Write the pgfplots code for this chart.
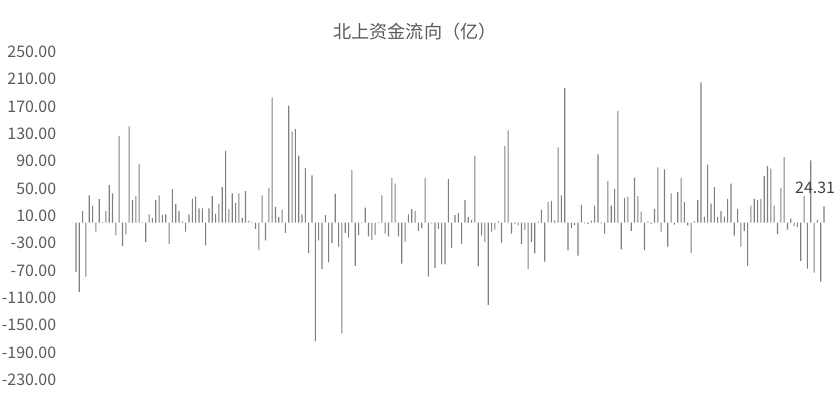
\documentclass[border=0pt]{standalone}
\usepackage{pgfplots}
\pgfplotsset{compat=1.18}
\usepackage{pgfplotstable}
\usepackage{fontspec}
\setmainfont{Noto Sans CJK SC}

\definecolor{barc}{RGB}{127,127,127}
\definecolor{txt}{RGB}{89,89,89}
\definecolor{lbl}{RGB}{64,64,64}

% daily northbound flow, one value per day
\pgfplotstableread{
v
-72
-101
17
-79
40
25
-13
35
1
17
55
43
-18
127
-34
-17
141
33
39
86
1
-28
12
7
33
40
11
12
-31
49
27
17
2
-13
12
35
38
21
21
-33
21
39
13
28
52
105
20
43
29
43
7
46
3
1
-9
-40
40
-26
51
183
23
8
19
-15
171
133
137
98
12
80
-44
69
-173
-26
-68
11
-58
-30
42
-35
-162
-15
-22
77
-63
-18
1
22
-20
-25
-18
1
40
-16
-20
65
57
-20
-60
-28
12
20
17
-12
-8
65
-79
-1
-66
-9
-61
-61
64
-37
11
14
-31
33
8
4
98
-64
-19
-28
-120
-13
-10
2
-29
112
135
-16
-2
-4
-31
-11
-68
-28
-45
2
19
-57
30
32
3
110
40
197
-40
-8
-4
-48
26
-1
-2
3
25
100
-1
-16
61
25
49
163
-39
36
38
-12
66
39
16
-40
2
-2
20
81
-13
78
-35
43
-3
45
65
30
-4
-44
2
33
205
9
85
28
52
8
17
9
35
57
-19
20
-35
-12
-63
25
35
33
35
68
83
79
25
-17
51
96
-10
6
-5
-6
-56
39
-67
91
-73
4
-86
24.31
}\flows

\begin{document}
\begin{tikzpicture}
\begin{axis}[
    name=ax,
    at={(0,0)}, anchor=south west,
    scale only axis,
    width=751.4bp, height=328.3bp,
    xmin=-0.5, xmax=225.5,
    ymin=-230, ymax=250,
    xtick=\empty,
    ytick={-230,-190,...,250},
    axis line style={draw=none},
    major tick length=0pt,
    clip=false,
    /pgf/number format/.cd, fixed, fixed zerofill, precision=2, assume math mode=true,
    /pgfplots/.cd,
    yticklabel style={font=\fontsize{16}{18}\selectfont, text=txt,
        anchor=east, inner sep=0pt, xshift=-18bp},
]
\addplot[ybar, bar width=1.1bp, fill=barc, draw=none]
    table[x expr=\coordindex, y=v] {\flows};
\node[font=\fontsize{16}{18}\selectfont, text=lbl, inner sep=0pt]
    at (axis cs:222.3,50.7) {24.31};
\end{axis}
\node[font=\fontsize{18.2}{20}\selectfont, text=txt, inner sep=0pt]
    at ([shift={(340.7bp,348bp)}]ax.south west) {北上资金流向（亿）};
\path[use as bounding box] ([shift={(-74.3bp,-31bp)}]ax.south west)
    rectangle ++(840bp,411bp);
\end{tikzpicture}
\end{document}
